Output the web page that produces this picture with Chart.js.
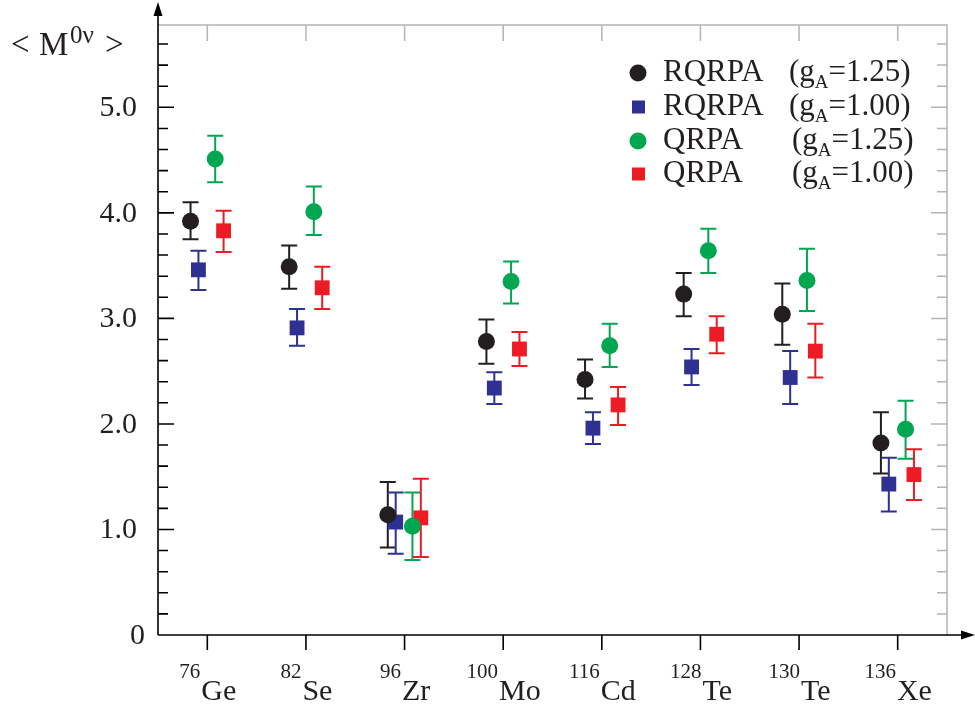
<!DOCTYPE html>
<html>
<head>
<meta charset="utf-8">
<script src="https://cdn.jsdelivr.net/npm/chart.js@4"></script>
<style>
html, body { margin: 0; padding: 0; background: #fff; }
</style>
</head>
<body>
<canvas id="chart" width="975" height="708"></canvas>
<script>
// nuclei along the x axis
const massNumbers = ["76", "82", "96", "100", "116", "128", "130", "136"];
const elements = ["Ge", "Se", "Zr", "Mo", "Cd", "Te", "Te", "Xe"];

// RQRPA, gA = 1.25
const rqrpa125 = [3.92, 3.49, 1.14, 2.78, 2.42, 3.23, 3.04, 1.82];
const rqrpa125Low = [3.75, 3.28, 0.83, 2.57, 2.24, 3.02, 2.75, 1.53];
const rqrpa125High = [4.10, 3.69, 1.45, 2.99, 2.61, 3.43, 3.33, 2.11];

// RQRPA, gA = 1.00
const rqrpa100 = [3.46, 2.91, 1.07, 2.34, 1.96, 2.54, 2.44, 1.43];
const rqrpa100Low = [3.27, 2.74, 0.77, 2.19, 1.81, 2.37, 2.19, 1.17];
const rqrpa100High = [3.64, 3.09, 1.35, 2.49, 2.11, 2.71, 2.69, 1.68];

// QRPA, gA = 1.25
const qrpa125 = [4.51, 4.01, 1.03, 3.35, 2.74, 3.64, 3.36, 1.95];
const qrpa125Low = [4.29, 3.79, 0.71, 3.14, 2.54, 3.43, 3.07, 1.67];
const qrpa125High = [4.73, 4.25, 1.35, 3.54, 2.95, 3.85, 3.66, 2.22];

// QRPA, gA = 1.00
const qrpa100 = [3.83, 3.29, 1.11, 2.71, 2.18, 2.85, 2.69, 1.52];
const qrpa100Low = [3.63, 3.09, 0.74, 2.55, 1.99, 2.67, 2.44, 1.28];
const qrpa100High = [4.02, 3.49, 1.48, 2.87, 2.35, 3.02, 2.95, 1.76];

// y axis tick labels
const yTickValues = [0, 1, 2, 3, 4, 5];
const yTickLabels = ["0", "1.0", "2.0", "3.0", "4.0", "5.0"];

const BLACK = "#231f20";
const BLUE = "#2e3192";
const GREEN = "#00a650";
const RED = "#ed1c24";
const GRAY = "#b4b4b4";
const SERIF = '"Liberation Serif", "DejaVu Serif", serif';

function points(values, shift) {
    return values.map((v, i) => ({ x: i + shift, y: v }));
}

function series(label, values, low, high, shift, color, style, radius) {
    return {
        label: label,
        data: points(values, shift),
        low: low,
        high: high,
        backgroundColor: color,
        borderColor: color,
        borderWidth: 0,
        pointStyle: style,
        pointRadius: radius,
        pointHoverRadius: radius
    };
}

// axes, frame, ticks, labels and error bars
const framePlugin = {
    id: "frame",
    beforeDatasetsDraw(chart) {
        const ctx = chart.ctx;
        const xs = chart.scales.x;
        const ys = chart.scales.y;
        const a = chart.chartArea;
        ctx.save();

        // grey frame (top and right) with inward ticks
        ctx.strokeStyle = GRAY;
        ctx.lineWidth = 1.5;
        ctx.beginPath();
        ctx.moveTo(a.left, a.top);
        ctx.lineTo(a.right, a.top);
        ctx.lineTo(a.right, a.bottom);
        for (let i = 0; i < elements.length; i++) {
            const px = xs.getPixelForValue(i);
            ctx.moveTo(px, a.top);
            ctx.lineTo(px, a.top + 16);
        }
        for (let k = 1; k <= 28; k++) {
            const py = ys.getPixelForValue(k / 5);
            ctx.moveTo(a.right, py);
            ctx.lineTo(a.right - (k % 5 === 0 ? 16 : 10), py);
        }
        ctx.stroke();

        // black axes
        ctx.strokeStyle = "#000";
        ctx.fillStyle = "#000";
        ctx.lineWidth = 1.6;
        ctx.beginPath();
        ctx.moveTo(a.left, a.bottom);
        ctx.lineTo(a.left, 12);
        ctx.moveTo(a.left, a.bottom);
        ctx.lineTo(965, a.bottom);
        for (let k = 1; k <= 28; k++) {
            const py = ys.getPixelForValue(k / 5);
            ctx.moveTo(a.left, py);
            ctx.lineTo(a.left + (k % 5 === 0 ? 16 : 10), py);
        }
        for (let i = 0; i < elements.length; i++) {
            const px = xs.getPixelForValue(i);
            ctx.moveTo(px, a.bottom);
            ctx.lineTo(px, a.bottom + 15);
        }
        ctx.stroke();

        // arrow heads
        ctx.beginPath();
        ctx.moveTo(a.left, 2);
        ctx.lineTo(a.left - 4.5, 16);
        ctx.lineTo(a.left + 4.5, 16);
        ctx.closePath();
        ctx.moveTo(975, a.bottom);
        ctx.lineTo(961, a.bottom - 4.5);
        ctx.lineTo(961, a.bottom + 4.5);
        ctx.closePath();
        ctx.fill();

        // y tick labels
        ctx.fillStyle = BLACK;
        ctx.font = "30px " + SERIF;
        ctx.textBaseline = "middle";
        ctx.textAlign = "right";
        yTickValues.forEach((v, i) => {
            const py = ys.getPixelForValue(v);
            ctx.fillText(yTickLabels[i], v === 0 ? 145 : 137, py + 1);
        });

        // x labels: superscript mass number + element
        ctx.textBaseline = "alphabetic";
        ctx.textAlign = "left";
        for (let i = 0; i < elements.length; i++) {
            const px = xs.getPixelForValue(i);
            ctx.font = "21px " + SERIF;
            const w1 = ctx.measureText(massNumbers[i]).width;
            ctx.font = "30px " + SERIF;
            const w2 = ctx.measureText(elements[i]).width;
            const x0 = px - (w1 + w2) / 2;
            ctx.font = "21px " + SERIF;
            ctx.fillText(massNumbers[i], x0, 678);
            ctx.font = "30px " + SERIF;
            ctx.fillText(elements[i], x0 + w1 + 1, 700);
        }

        // y axis title  < M^0v >
        ctx.font = "33px " + SERIF;
        ctx.fillText("<", 11, 55);
        ctx.fillText("M", 39, 55);
        ctx.font = "25px " + SERIF;
        ctx.fillText("0\u03bd", 70, 43);
        ctx.font = "33px " + SERIF;
        ctx.fillText(">", 105, 55);

        // error bars, behind the markers
        ctx.lineWidth = 2;
        chart.data.datasets.forEach((ds, d) => {
            const meta = chart.getDatasetMeta(d);
            ctx.strokeStyle = ds.borderColor;
            ctx.beginPath();
            meta.data.forEach((el, j) => {
                const yl = ys.getPixelForValue(ds.low[j]);
                const yh = ys.getPixelForValue(ds.high[j]);
                ctx.moveTo(el.x, yl);
                ctx.lineTo(el.x, yh);
                ctx.moveTo(el.x - 8, yl);
                ctx.lineTo(el.x + 8, yl);
                ctx.moveTo(el.x - 8, yh);
                ctx.lineTo(el.x + 8, yh);
            });
            ctx.stroke();
        });
        ctx.restore();
    },
    afterDraw(chart) {
        // legend
        const ctx = chart.ctx;
        const rows = [73, 107, 141, 174];
        const names = ["RQRPA", "RQRPA", "QRPA", "QRPA"];
        const gas = ["1.25", "1.00", "1.25", "1.00"];
        ctx.save();
        chart.data.datasets.forEach((ds, i) => {
            const cy = rows[i];
            ctx.fillStyle = ds.backgroundColor;
            if (ds.pointStyle === "circle") {
                ctx.beginPath();
                ctx.arc(638, cy, 8.5, 0, Math.PI * 2);
                ctx.fill();
            } else {
                ctx.fillRect(632, cy - 6.5, 13, 13);
            }
            ctx.fillStyle = BLACK;
            ctx.textBaseline = "alphabetic";
            ctx.textAlign = "left";
            ctx.font = "31px " + SERIF;
            const base = cy + 8;
            ctx.fillText(names[i], 663, base);
            const gx = i < 2 ? 789 : 792;
            ctx.fillText("(g", gx, base);
            let x = gx + ctx.measureText("(g").width;
            ctx.font = "19px " + SERIF;
            ctx.fillText("A", x, base + 7);
            x += ctx.measureText("A").width;
            ctx.font = "31px " + SERIF;
            ctx.fillText("=" + gas[i] + ")", x, base);
        });
        ctx.restore();
    }
};

new Chart(document.getElementById("chart").getContext("2d"), {
    type: "scatter",
    data: {
        datasets: [
            series("RQRPA (gA=1.25)", rqrpa125, rqrpa125Low, rqrpa125High, -0.17, BLACK, "circle", 8.5),
            series("RQRPA (gA=1.00)", rqrpa100, rqrpa100Low, rqrpa100High, -0.09, BLUE, "rect", 10.5),
            series("QRPA (gA=1.25)", qrpa125, qrpa125Low, qrpa125High, 0.08, GREEN, "circle", 8.5),
            series("QRPA (gA=1.00)", qrpa100, qrpa100Low, qrpa100High, 0.165, RED, "rect", 10.5)
        ]
    },
    options: {
        responsive: false,
        animation: false,
        layout: { padding: { left: 158, right: 28, top: 25, bottom: 73 } },
        plugins: {
            legend: { display: false },
            tooltip: { enabled: false }
        },
        scales: {
            x: { type: "linear", min: -0.5, max: 7.5, display: false },
            y: { type: "linear", min: 0, max: 5.78, display: false }
        }
    },
    plugins: [framePlugin]
});
</script>
</body>
</html>
